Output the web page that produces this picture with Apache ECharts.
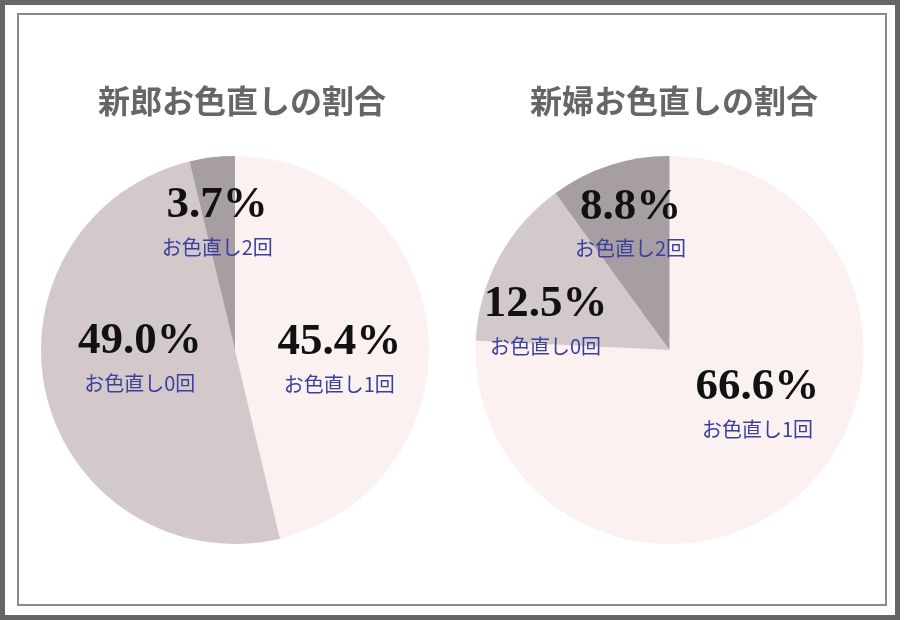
<!DOCTYPE html>
<html>
<head>
<meta charset="utf-8">
<script src="https://cdn.jsdelivr.net/npm/echarts@6/dist/echarts.min.js"></script>
<style>
html,body{margin:0;padding:0;background:#fff;}
#chart{width:920px;height:620px;}
</style>
</head>
<body>
<div id="chart"></div>
<script>
const categories = ['お色直し1回', 'お色直し0回', 'お色直し2回'];
const groomValues = [45.4, 49.0, 3.7];
const brideValues = [66.6, 12.5, 8.8];
const chartTitles = ['新郎お色直しの割合', '新婦お色直しの割合'];

const sliceColors = ['#fbf1f0', '#d3c9cb', '#a69ea2'];
// label nudges (dx, dy) from the default inside position, per series / slice
const labelShift = [
  [[5, 21], [2, -15], [-6, -28]],
  [[19, -18], [-36, 19], [-8, -31]]
];

const chart = echarts.init(document.getElementById('chart'), null, {renderer: 'canvas'});

function makeData(values) {
  return values.map((v, i) => ({
    name: categories[i],
    value: v,
    itemStyle: {color: sliceColors[i]}
  }));
}

function makeSeries(values, center, si) {
  return {
    type: 'pie',
    center: center,
    radius: 194,
    startAngle: 90,
    clockwise: true,
    avoidLabelOverlap: false,
    silent: true,
    itemStyle: {borderWidth: 0},
    emphasis: {disabled: true},
    label: {
      show: true,
      position: 'inside',
      formatter: p => '{p|' + p.value.toFixed(1) + '%}\n{s|' + p.name + '}',
      rich: {
        p: {fontFamily: 'Liberation Serif', fontWeight: 'bold', fontSize: 45, color: '#111', lineHeight: 50, align: 'center'},
        s: {fontFamily: 'Noto Sans CJK JP', fontSize: 20, color: '#3b3f9e', lineHeight: 34, align: 'center'}
      }
    },
    labelLine: {show: false},
    labelLayout: function (params) {
      const s = labelShift[si][params.dataIndex];
      return {dx: s[0], dy: s[1]};
    },
    data: makeData(values)
  };
}

chart.setOption({
  animation: false,
  backgroundColor: '#ffffff',
  title: [
    {text: chartTitles[0], left: 237, top: 80, textAlign: 'center',
     textStyle: {fontFamily: 'Noto Sans CJK JP', fontWeight: 'bold', fontSize: 32, color: '#666666'}},
    {text: chartTitles[1], left: 669, top: 80, textAlign: 'center',
     textStyle: {fontFamily: 'Noto Sans CJK JP', fontWeight: 'bold', fontSize: 32, color: '#666666'}}
  ],
  graphic: [
    {type: 'rect', silent: true, shape: {x: 2.5, y: 2.5, width: 895, height: 615},
     style: {fill: 'none', stroke: '#666666', lineWidth: 5}},
    {type: 'rect', silent: true, shape: {x: 18, y: 14, width: 868, height: 591},
     style: {fill: 'none', stroke: '#8a8a8a', lineWidth: 2}}
  ],
  series: [
    makeSeries(groomValues, [235, 350], 0),
    makeSeries(brideValues, [669.5, 350], 1)
  ]
});
</script>
</body>
</html>
